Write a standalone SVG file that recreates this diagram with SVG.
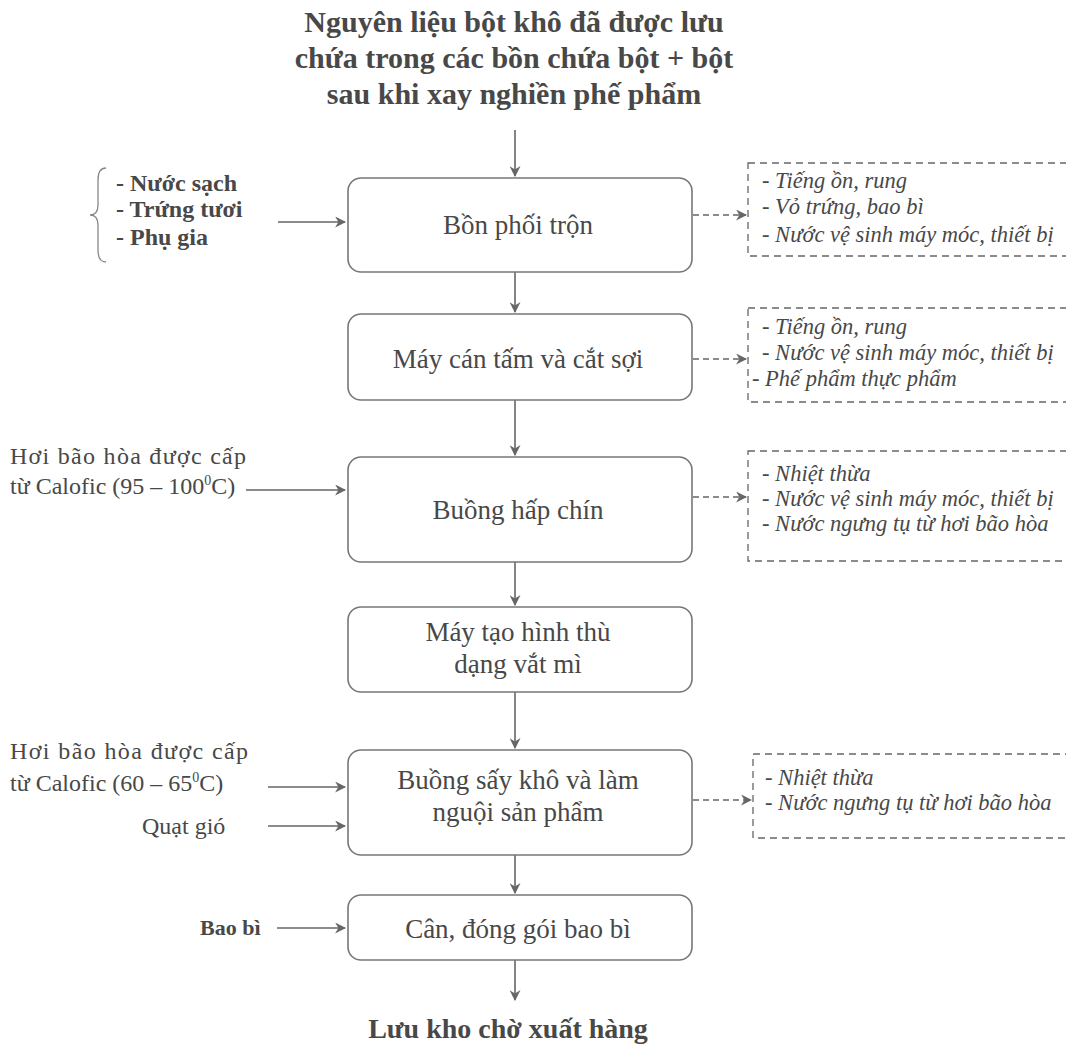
<svg xmlns="http://www.w3.org/2000/svg" width="1066" height="1046" viewBox="0 0 1066 1046">
<defs>
<style>
text{font-family:"Liberation Serif","Times New Roman",serif;fill:#484848}
.t{font-weight:bold;font-size:30px;text-anchor:middle}
.bx{font-size:27px;text-anchor:middle}
.lb{font-size:24px;font-weight:bold}
.lr{font-size:24px}
.it{font-size:22.5px;font-style:italic}
.box{fill:#fff;stroke:#777;stroke-width:1.6}
.db{fill:none;stroke:#666;stroke-width:1.3;stroke-dasharray:7 5}
.c{stroke:#666;stroke-width:1.6;fill:none;marker-end:url(#ah)}
.cd{stroke:#666;stroke-width:1.4;fill:none;stroke-dasharray:6 4;marker-end:url(#ah)}
</style>
<marker id="ah" viewBox="0 0 10 10" refX="9" refY="5" markerWidth="11" markerHeight="11" markerUnits="userSpaceOnUse" orient="auto">
<path d="M0,0 L10,5 L0,10 L3,5 Z" fill="#666"/>
</marker>
</defs>
<rect width="1066" height="1046" fill="#fff"/>

<g id="title">
<text class="t" x="514" y="32">Nguyên liệu bột khô đã được lưu</text>
<text class="t" x="514" y="68">chứa trong các bồn chứa bột + bột</text>
<text class="t" x="514" y="104">sau khi xay nghiền phế phẩm</text>
</g>

<g id="connectors">
<line class="c" x1="515" y1="130" x2="515" y2="176"/>
<line class="c" x1="515" y1="272" x2="515" y2="312"/>
<line class="c" x1="515" y1="400" x2="515" y2="455"/>
<line class="c" x1="515" y1="562" x2="515" y2="605"/>
<line class="c" x1="515" y1="692" x2="515" y2="748"/>
<line class="c" x1="515" y1="855" x2="515" y2="893"/>
<line class="c" x1="515" y1="960" x2="515" y2="1000"/>
<line class="c" x1="278" y1="222" x2="345" y2="222"/>
<line class="c" x1="246" y1="490" x2="345" y2="490"/>
<line class="c" x1="268" y1="787" x2="345" y2="787"/>
<line class="c" x1="268" y1="826" x2="345" y2="826"/>
<line class="c" x1="277" y1="928" x2="345" y2="928"/>
<line class="cd" x1="693" y1="215" x2="746" y2="215"/>
<line class="cd" x1="693" y1="359" x2="746" y2="359"/>
<line class="cd" x1="693" y1="497" x2="746" y2="497"/>
<line class="cd" x1="693" y1="800" x2="751" y2="800"/>
</g>

<g id="n1">
<rect class="box" x="348" y="178" width="344" height="94" rx="13"/>
<text class="bx" x="518" y="234">Bồn phối trộn</text>
</g>
<g id="n2">
<rect class="box" x="348" y="314" width="344" height="86" rx="13"/>
<text class="bx" x="518" y="368">Máy cán tấm và cắt sợi</text>
</g>
<g id="n3">
<rect class="box" x="348" y="457" width="344" height="105" rx="13"/>
<text class="bx" x="518" y="519">Buồng hấp chín</text>
</g>
<g id="n4">
<rect class="box" x="348" y="607" width="344" height="85" rx="13"/>
<text class="bx" x="518" y="641">Máy tạo hình thù</text>
<text class="bx" x="518" y="673">dạng vắt mì</text>
</g>
<g id="n5">
<rect class="box" x="348" y="750" width="344" height="105" rx="13"/>
<text class="bx" x="518" y="789">Buồng sấy khô và làm</text>
<text class="bx" x="518" y="821">nguội sản phẩm</text>
</g>
<g id="n6">
<rect class="box" x="348" y="895" width="344" height="65" rx="13"/>
<text class="bx" x="518" y="938">Cân, đóng gói bao bì</text>
</g>

<g id="out">
<text class="t" x="508" y="1038" style="font-size:28px">Lưu kho chờ xuất hàng</text>
</g>

<g id="in1">
<path d="M106,168 Q98,168 98,180 L98,205 Q98,215 90,215 Q98,215 98,225 L98,250 Q98,262 106,262" fill="none" stroke="#888" stroke-width="1.3"/>
<text class="lb" x="116" y="191">-  Nước sạch</text>
<text class="lb" x="116" y="217">-  Trứng tươi</text>
<text class="lb" x="116" y="245">-   Phụ gia</text>
</g>
<g id="in3">
<text class="lr" x="10" y="464" textLength="236">Hơi bão hòa được cấp</text>
<text class="lr" x="10" y="494">từ Calofic (95 – 100<tspan dy="-9" font-size="14">0</tspan><tspan dy="9">C)</tspan></text>
</g>
<g id="in5">
<text class="lr" x="10" y="759" textLength="238">Hơi bão hòa được cấp</text>
<text class="lr" x="10" y="791">từ Calofic (60 – 65<tspan dy="-9" font-size="14">0</tspan><tspan dy="9">C)</tspan></text>
<text class="lr" x="142" y="834">Quạt gió</text>
</g>
<g id="in6">
<text class="lb" x="200" y="935" style="font-size:22px">Bao bì</text>
</g>

<g id="w1">
<rect class="db" x="748" y="163" width="330" height="93"/>
<text class="it" x="762" y="188">-  Tiếng ồn, rung</text>
<text class="it" x="762" y="214">-  Vỏ trứng, bao bì</text>
<text class="it" x="762" y="242">-  Nước vệ sinh máy móc, thiết bị</text>
</g>
<g id="w2">
<rect class="db" x="748" y="308" width="330" height="94"/>
<text class="it" x="762" y="334">-  Tiếng ồn, rung</text>
<text class="it" x="762" y="360">-  Nước vệ sinh máy móc, thiết bị</text>
<text class="it" x="752" y="386">- Phế phẩm thực phẩm</text>
</g>
<g id="w3">
<rect class="db" x="748" y="451" width="330" height="110"/>
<text class="it" x="762" y="481">-  Nhiệt thừa</text>
<text class="it" x="762" y="506">-  Nước vệ sinh máy móc, thiết bị</text>
<text class="it" x="762" y="531">-  Nước ngưng tụ từ hơi bão hòa</text>
</g>
<g id="w5">
<rect class="db" x="753" y="754" width="330" height="84"/>
<text class="it" x="765" y="785">-  Nhiệt thừa</text>
<text class="it" x="765" y="810">-  Nước ngưng tụ từ hơi bão hòa</text>
</g>
</svg>
